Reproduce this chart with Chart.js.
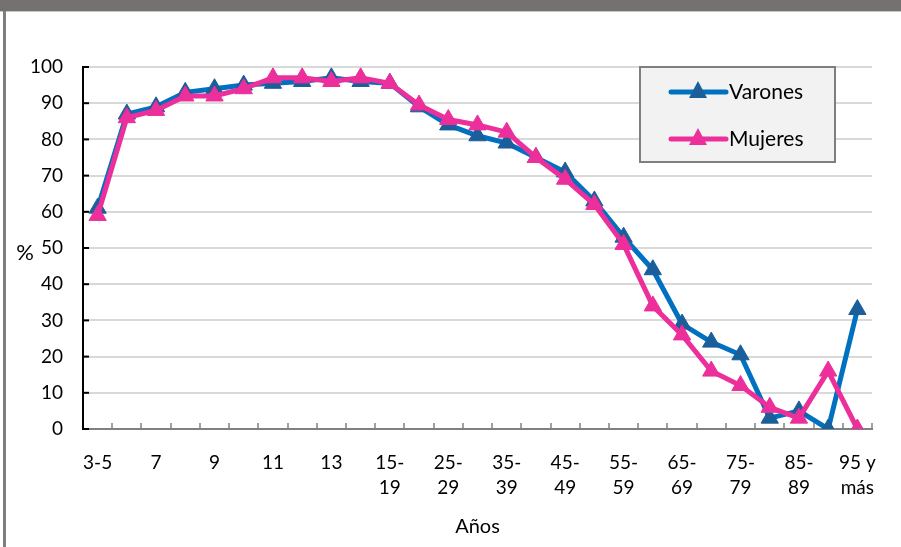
<!DOCTYPE html>
<html>
<head>
<meta charset="utf-8">
<script src="https://cdn.jsdelivr.net/npm/chart.js@4"></script>
<style>
  html, body { margin:0; padding:0; background:#fff; }
  #wrap { width:901px; height:547px; position:relative; }
</style>
</head>
<body>
<div id="wrap"><canvas id="chart" width="901" height="547"></canvas></div>
<script>
// Datos
const categorias = ['3-5','6','7','8','9','10','11','12','13','14','15-19','20-24','25-29','30-34','35-39','40-44','45-49','50-54','55-59','60-64','65-69','70-74','75-79','80-84','85-89','90-94','95 y más'];
const varones = [61, 87, 89, 93, 94, 95, 95.5, 96, 97, 96, 95.5, 89, 84, 81, 79, 75, 71, 63, 53, 44, 29, 24, 20.5, 3, 5, 0, 33];
const mujeres = [59, 86, 88, 92, 92, 94, 97, 97, 96, 97, 95.5, 89.5, 85.5, 84, 82, 75, 69, 62, 51, 34, 26, 16, 12, 6, 3, 16, 0];
const yTicks = [0,10,20,30,40,50,60,70,80,90,100];

const AZUL = '#0070C0', AZUL_OSC = '#1A5E9A', ROSA = '#EC2F9A';
const FONT = 'Lato, "Open Sans", sans-serif';

function tickLabel(i){
  if(i % 2) return '';
  const c = categorias[i];
  if(c === '95 y más') return ['95 y','más'];
  if(c.indexOf('-') > 0 && i > 0) { const p = c.split('-'); return [p[0]+'-', p[1]]; }
  return c;
}

const extras = {
  id:'extras',
  beforeDraw(chart){
    const ctx = chart.ctx;
    ctx.save();
    ctx.fillStyle = '#767171';
    ctx.fillRect(0,0,901,11);
    ctx.fillStyle = '#c8c6c6';
    ctx.fillRect(0,11,901,1);
    ctx.fillStyle = '#7f7f7f';
    ctx.fillRect(3,11,3,536);
    ctx.restore();
  },
  afterDraw(chart){
    const ctx = chart.ctx, a = chart.chartArea;
    const ys = chart.scales.y;
    ctx.save();
    // marcas interiores eje Y
    ctx.strokeStyle = '#000'; ctx.lineWidth = 2;
    yTicks.forEach(v=>{
      const y = ys.getPixelForValue(v);
      ctx.beginPath(); ctx.moveTo(a.left, y); ctx.lineTo(a.left+6, y); ctx.stroke();
    });
    // marcas eje X
    ctx.strokeStyle = '#808080'; ctx.lineWidth = 1.5;
    const step = (a.right - a.left) / categorias.length;
    for(let i=1;i<=categorias.length;i++){
      const x = Math.round(a.left + i*step);
      ctx.beginPath(); ctx.moveTo(x, a.bottom); ctx.lineTo(x, a.bottom-6); ctx.stroke();
    }
    // titulos
    ctx.fillStyle = '#000';
    ctx.font = '22px ' + FONT;
    ctx.textAlign = 'center'; ctx.textBaseline = 'middle';
    ctx.fillText('%', 25, 253);
    ctx.font = '20px ' + FONT;
    ctx.fillText('Años', (a.left+a.right)/2, 527);
    // leyenda
    const lx = 640, ly = 67, lw = 195, lh = 95;
    ctx.fillStyle = '#f2f2f2';
    ctx.fillRect(lx, ly, lw, lh);
    ctx.strokeStyle = '#7f7f7f'; ctx.lineWidth = 2;
    ctx.strokeRect(lx, ly, lw, lh);
    [['Varones', AZUL, AZUL_OSC, 92], ['Mujeres', ROSA, ROSA, 139]].forEach(([txt, c, m, y])=>{
      ctx.strokeStyle = c; ctx.lineWidth = 5; ctx.lineCap = 'round';
      ctx.beginPath(); ctx.moveTo(671, y); ctx.lineTo(726, y); ctx.stroke();
      ctx.fillStyle = m;
      ctx.beginPath(); ctx.moveTo(698, y-11); ctx.lineTo(707, y+6); ctx.lineTo(689, y+6); ctx.closePath(); ctx.fill();
      ctx.fillStyle = '#000'; ctx.font = '21px ' + FONT;
      ctx.textAlign = 'left';
      ctx.fillText(txt, 729, y);
    });
    ctx.restore();
  }
};

new Chart(document.getElementById('chart'), {
  type:'line',
  data:{
    labels: categorias,
    datasets:[
      { label:'Varones', data:varones, borderColor:AZUL, borderWidth:5, pointStyle:'triangle', pointRadius:10, pointBackgroundColor:AZUL_OSC, pointBorderColor:AZUL_OSC, pointBorderWidth:1, tension:0, order:1 },
      { label:'Mujeres', data:mujeres, borderColor:ROSA, borderWidth:5, pointStyle:'triangle', pointRadius:10, pointBackgroundColor:ROSA, pointBorderColor:ROSA, pointBorderWidth:1, tension:0, order:0 }
    ]
  },
  options:{
    responsive:false, animation:false,
    layout:{ padding:{ top:67, right:29, left:0, bottom:0 } },
    plugins:{ legend:{ display:false }, tooltip:{ enabled:false } },
    scales:{
      x:{
        offset:true,
        grid:{ display:false, drawTicks:false },
        border:{ color:'#808080', width:2 },
        ticks:{ autoSkip:false, maxRotation:0, padding:21, color:'#000', font:{ family:FONT, size:19, lineHeight:1.32 }, callback:(v,i)=>tickLabel(i) },
        afterFit(s){ s.height = 118; }
      },
      y:{
        min:0, max:100,
        grid:{ color:'#d9d9d9', lineWidth:2, drawTicks:false },
        border:{ color:'#000', width:2 },
        ticks:{ stepSize:10, padding:20, color:'#000', font:{ family:FONT, size:19 } },
        afterFit(s){ s.width = 83; }
      }
    }
  },
  plugins:[extras]
});
</script>
</body>
</html>
